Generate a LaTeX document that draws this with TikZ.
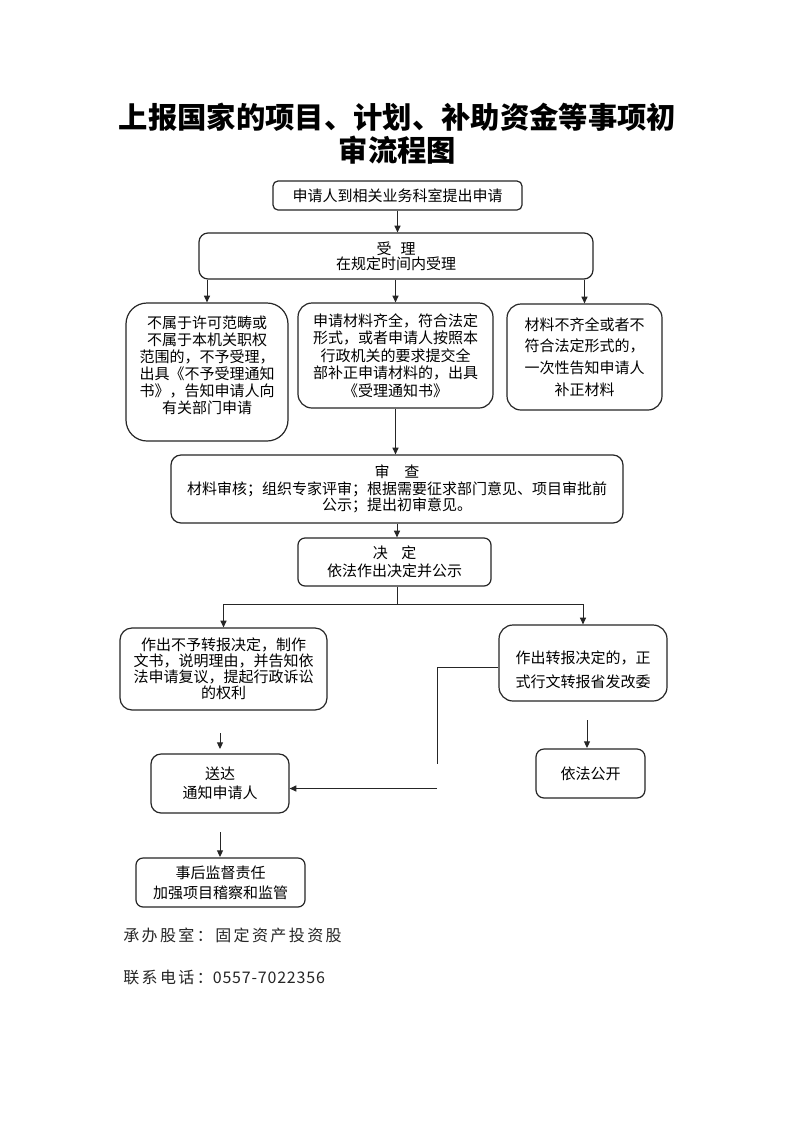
\documentclass[tikz,border=0pt]{standalone}
\usepackage{fontspec}
\usetikzlibrary{arrows.meta}
\newfontfamily\cjk{Noto Sans CJK SC}
\newfontfamily\cjkfoot[LetterSpace=15]{Noto Sans CJK SC}
\newfontfamily\cjkdigit[LetterSpace=5]{Noto Sans CJK SC}
\newcommand\pxl[1]{#1*0.75pt}
\newcommand\fs[1]{\fontsize{11.25pt}{#1}\selectfont}
\tikzset{
  box/.style={draw=black!85, line width=0.9pt, inner sep=0pt, align=center,
    font=\cjk\fs{13.5pt}, text=black},
  txt/.style={inner sep=0pt, align=center, font=\cjk\fs{13.5pt}, text=black},
  arr/.style={-{Triangle[length=5pt,width=4.5pt]}, line width=0.75pt, draw=black!85},
  ln/.style={line width=0.75pt, draw=black!85},
  foot/.style={anchor=west, inner sep=0pt, font=\cjkfoot\fontsize{12pt}{14pt}\selectfont, text=black!85},
}
\begin{document}
\begin{tikzpicture}[x=0.75pt,y=-0.75pt]
\path[use as bounding box, fill=white] (0,0) rectangle (793,1122);

% title
\node[inner sep=0pt, align=center, font=\cjk\bfseries\fontsize{22pt}{24.75pt}\selectfont] (title) at (397.5,133.5)
  {上报国家的项目、计划、补助资金等事项初\\审流程图};

% boxes
\node[box, minimum width=\pxl{249}, minimum height=\pxl{29}, rounded corners=\pxl{5}] (b1) at (397.5,195.5)
  {申请人到相关业务科室提出申请};
\node[box, font=\cjk\fs{11.25pt}, minimum width=\pxl{394}, minimum height=\pxl{46}, rounded corners=\pxl{9}] (b2) at (396,256)
  {受\hspace{0.6em}理\\在规定时间内受理};
\node[box, minimum width=\pxl{162}, minimum height=\pxl{138}, rounded corners=\pxl{21}] (b3) at (207,372) {};
\node[txt, font=\cjk\fs{12.75pt}] (b3t) at (207,365.5)
  {不属于许可范畴或\\不属于本机关职权\\范围的，不予受理，\\出具《不予受理通知\\书》，告知申请人向\\有关部门申请};
\node[box, font=\cjk\fs{13.1pt}, minimum width=\pxl{195}, minimum height=\pxl{105}, rounded corners=\pxl{14}] (b4) at (395.5,355.5)
  {申请材料齐全，符合法定\\形式，或者申请人按照本\\行政机关的要求提交全\\部补正申请材料的，出具\\《受理通知书》};
\node[box, font=\cjk\fs{16.3pt}, minimum width=\pxl{155}, minimum height=\pxl{106}, rounded corners=\pxl{14}] (b5) at (584.5,357)
  {材料不齐全或者不\\符合法定形式的，\\一次性告知申请人\\补正材料};
\node[box, font=\cjk\fs{12.4pt}, minimum width=\pxl{452}, minimum height=\pxl{68}, rounded corners=\pxl{10}] (b6) at (397,489)
  {审\hspace{1em}查\\材料审核；组织专家评审；根据需要征求部门意见、项目审批前\\公示；提出初审意见。};
\node[box, minimum width=\pxl{193}, minimum height=\pxl{48}, rounded corners=\pxl{7}] (b7) at (394.5,562)
  {决\hspace{0.9em}定\\依法作出决定并公示};
\node[box, font=\cjk\fs{12pt}, minimum width=\pxl{207}, minimum height=\pxl{82}, rounded corners=\pxl{12}] (L) at (223.5,669)
  {作出不予转报决定，制作\\文书，说明理由，并告知依\\法申请复议，提起行政诉讼\\的权利};
\node[box, minimum width=\pxl{168}, minimum height=\pxl{76}, rounded corners=\pxl{14}] (R) at (583,663) {};
\node[txt, font=\cjk\fs{18pt}] (Rt) at (583,670)
  {作出转报决定的，正\\式行文转报省发改委};
\node[box, minimum width=\pxl{109}, minimum height=\pxl{49}, rounded corners=\pxl{8}] (G) at (590.5,773.5)
  {依法公开};
\node[box, font=\cjk\fs{14.25pt}, minimum width=\pxl{138}, minimum height=\pxl{59}, rounded corners=\pxl{10}] (S) at (220,783.5)
  {送达\\通知申请人};
\node[box, font=\cjk\fs{15pt}, minimum width=\pxl{169}, minimum height=\pxl{49}, rounded corners=\pxl{7}] (H) at (220.5,882.5)
  {事后监督责任\\加强项目稽察和监管};

% connectors
\draw[arr] (b1.south) -- (b1.south |- b2.north);
\draw[arr] (b2.south -| b3.north) -- (b3.north);
\draw[arr] (b2.south -| b4.north) -- (b4.north);
\draw[arr] (b2.south -| b5.north) -- (b5.north);
\draw[arr] (b4.south) -- (b4.south |- b6.north);
\draw[arr] (b6.south) -- (b6.south |- b7.north);

\coordinate (j) at (397,604);
\draw[ln] (b7.south -| j) -- (j);
\draw[arr] (j) -| (L.north);
\draw[arr] (j) -| (R.north);

\coordinate (k1) at (437,667);
\coordinate (k2) at (437,764);
\coordinate (k3) at (437,788.5);
\draw[ln] (R.west |- k1) -- (k1) -- (k2);
\draw[arr] (k3) -- (k3 -| S.east);

\coordinate (a1) at (220,733);
\coordinate (a2) at (220,749);
\draw[arr] (a1) -- (a2);
\coordinate (c1) at (587,720);
\coordinate (c2) at (587,748);
\draw[arr] (c1) -- (c2);
\coordinate (d1) at (220,832);
\coordinate (d2) at (220,857);
\draw[arr] (d1) -- (d2);

% footer
\node[foot] (f1) at (123,935) {承办股室：固定资产投资股};
\node[foot] (f2) at (123,977) {联系电话：{\cjkdigit 0557-7022356}};
\end{tikzpicture}
\end{document}
